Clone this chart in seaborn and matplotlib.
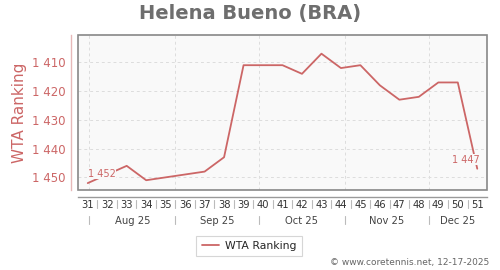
import numpy as np
import pandas as pd
import matplotlib
matplotlib.use("Agg")
import matplotlib.pyplot as plt
import matplotlib.dates as mdates
import matplotlib.transforms as mtransforms
from matplotlib.patches import Rectangle
import seaborn as sns

# ---- data ----
weeks = list(range(31, 52))
ranks = [1452, 1449, 1446, 1451, 1450, 1449, 1448, 1443, 1411, 1411, 1411,
         1414, 1407, 1412, 1411, 1418, 1423, 1422, 1417, 1417, 1447]
month_labels = ["Aug 25", "Sep 25", "Oct 25", "Nov 25", "Dec 25"]
y_ticks = [1410, 1420, 1430, 1440, 1450]
title = "Helena Bueno (BRA)"
series_name = "WTA Ranking"
credit = "\u00a9 www.coretennis.net, 12-17-2025"

week_start = pd.Timestamp("2025-07-28") + pd.to_timedelta([7 * i for i in range(len(weeks))], unit="D")
dates = week_start + pd.Timedelta(hours=84)
df = pd.DataFrame({"date": dates, series_name: ranks})

xmin = pd.Timestamp("2025-07-28")
xmax = pd.Timestamp("2025-12-22")
month_starts = pd.date_range("2025-08-01", periods=5, freq="MS")

RED = "#cc6666"
sns.set_theme(style="white")
plt.rcParams["font.family"] = ["DejaVu Sans"]

fig = plt.figure(figsize=(5, 2.7), dpi=100)
ax = fig.add_axes([78 / 500, 80 / 270, 409 / 500, 155 / 270])
ax.set_facecolor("#f9f9f9")

for s in ["top", "right"]:
    ax.spines[s].set_visible(False)
ax.spines["left"].set_position(("outward", 5))
ax.spines["left"].set_color("#e6b8b8")
ax.spines["left"].set_linewidth(1)
ax.spines["bottom"].set_position(("outward", 5))
ax.spines["bottom"].set_color("#999999")
ax.spines["bottom"].set_linewidth(1)

sns.lineplot(data=df, x="date", y=series_name, ax=ax, color=RED, linewidth=1.3,
             label=series_name, legend=False)

ax.set_xlim(xmin, xmax)
ax.set_ylim(1454.4, 1400.5)
ax.set_yticks(y_ticks)
ax.set_yticklabels([f"{v:,}".replace(",", " ") for v in y_ticks])
ax.set_ylabel(series_name, color=RED, fontsize=11)
ax.yaxis.set_label_coords(-51 / 409, 0.5)
ax.set_xlabel("")
ax.set_xticks(month_starts)
ax.set_xticklabels([])
ax.tick_params(axis="y", length=0, pad=4, labelsize=8.5, labelcolor=RED)
ax.tick_params(axis="x", length=3, color="#999999", width=0.8)
ax.grid(True, color="#dddddd", linestyle=(0, (3, 3)), linewidth=0.7)

ax.add_patch(Rectangle((0, 0), 1, 1, transform=ax.transAxes, fill=False,
                       edgecolor="#888888", linewidth=1.2, clip_on=False, zorder=5))

# first / last value labels
bbox = dict(boxstyle="square,pad=0.05", fc="#f9f9f9", ec="none")
ax.annotate(f"{ranks[0]:,}".replace(",", " "), (dates[0], ranks[0]), xytext=(0, 3),
            textcoords="offset points", ha="left", va="bottom", fontsize=7, color=RED,
            bbox=bbox, zorder=4)
ax.annotate(f"{ranks[-1]:,}".replace(",", " "), (dates[-1], ranks[-1]), xytext=(2, 3),
            textcoords="offset points", ha="right", va="bottom", fontsize=7, color=RED,
            bbox=bbox, zorder=4)

# week labels and separators
trans = mtransforms.blended_transform_factory(ax.transData, ax.transAxes)
for w, d in zip(weeks, dates):
    ax.text(d, -0.095, str(w), transform=trans, ha="center", va="center",
            fontsize=7.2, color="#333333")
for ws in week_start[1:]:
    ax.plot([ws, ws], [-0.065, -0.118], transform=trans, color="#bbbbbb",
            linewidth=0.8, clip_on=False)

# month labels and separators
bounds = list(month_starts) + [xmax]
for i, lab in enumerate(month_labels):
    a = max(bounds[i], xmin)
    b = min(bounds[i + 1], xmax)
    ax.text(a + (b - a) / 2, -0.198, lab, transform=trans, ha="center", va="center",
            fontsize=7.2, color="#444444")
    ax.plot([month_starts[i], month_starts[i]], [-0.168, -0.219], transform=trans,
            color="#bbbbbb", linewidth=0.8, clip_on=False)

fig.text(0.5, 1 - 14 / 270, title, ha="center", va="center", fontsize=14,
         fontweight="bold", color="#6e6e6e")

handles, labels = ax.get_legend_handles_labels()
leg = fig.legend(handles, labels, loc="center", bbox_to_anchor=(249 / 500, 1 - 246 / 270),
                 fontsize=7.8, frameon=True, fancybox=False, edgecolor="#cccccc",
                 handlelength=1.6, handletextpad=0.5, borderpad=0.5)
leg.get_frame().set_linewidth(0.8)

fig.text(489 / 500, 1 - 263 / 270, credit, ha="right", va="center", fontsize=6.5,
         color="#666666")

fig.savefig("out.png", dpi=100)
